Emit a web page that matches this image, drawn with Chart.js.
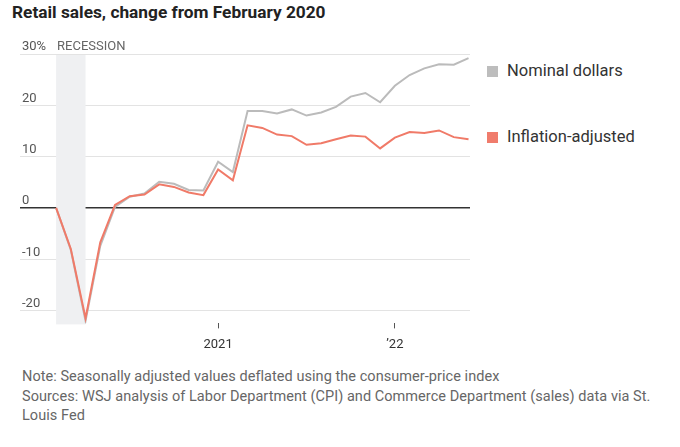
<!DOCTYPE html>
<html>
<head>
<meta charset="utf-8">
<script src="https://cdn.jsdelivr.net/npm/chart.js@4.4.0/dist/chart.umd.min.js"></script>
<style>
  body { margin: 0; width: 680px; height: 447px; position: relative; background: #fff; font-family: Roboto, sans-serif; overflow: hidden; }
  #title { position: absolute; left: 12px; top: 2px; font-weight: 700; font-size: 17.3px; color: #222; letter-spacing: 0; white-space: nowrap; }
  #wrap { position: absolute; left: 0; top: 0; width: 480px; height: 362px; }
  .leg { position: absolute; left: 487px; font-size: 16.5px; color: #333; white-space: nowrap; }
  .leg span { display: inline-block; width: 11px; height: 11px; margin-right: 9px; vertical-align: -1px; }
  #notes { position: absolute; left: 22px; top: 367px; width: 640px; font-size: 14.5px; line-height: 19.5px; color: #666; letter-spacing: 0.05px; }
</style>
</head>
<body>
<div id="title">Retail sales, change from February 2020</div>
<div id="wrap"><canvas id="chart"></canvas></div>
<div class="leg" style="top:61px"><span style="background:#bdbdbd"></span>Nominal dollars</div>
<div class="leg" style="top:127px"><span style="background:#f07c6c"></span>Inflation-adjusted</div>
<div id="notes">Note: Seasonally adjusted values deflated using the consumer-price index<br>Sources: WSJ analysis of Labor Department (CPI) and Commerce Department (sales) data via St. Louis Fed</div>
<script>
// monthly, Feb 2020 .. Jun 2022
const months = [
  '2020-02', '2020-03', '2020-04', '2020-05', '2020-06', '2020-07', '2020-08', '2020-09', '2020-10', '2020-11', '2020-12',
  '2021-01', '2021-02', '2021-03', '2021-04', '2021-05', '2021-06', '2021-07', '2021-08', '2021-09', '2021-10', '2021-11', '2021-12',
  '2022-01', '2022-02', '2022-03', '2022-04', '2022-05', '2022-06'
];
const nominal = [
  0, -8.2, -22.0, -7.4, 0.2, 2.2, 2.8, 5.1, 4.7, 3.5, 3.4,
  9.0, 7.0, 18.9, 18.9, 18.4, 19.2, 18.0, 18.6, 19.7, 21.7, 22.4, 20.6,
  23.8, 25.9, 27.2, 28.0, 27.9, 29.2
];
const inflationAdjusted = [
  0, -8.0, -21.5, -6.7, 0.6, 2.3, 2.6, 4.6, 4.1, 3.0, 2.5,
  7.5, 5.4, 16.1, 15.6, 14.3, 14.0, 12.3, 12.6, 13.4, 14.1, 13.9, 11.6,
  13.7, 14.8, 14.6, 15.1, 13.8, 13.4
];
const recession = ['2020-02', '2020-04'];
const xTickLabels = { '2021-01': '2021', '2022-01': '\u201922' };
const yTicks = [-20, -10, 0, 10, 20, 30];

const toPoints = arr => arr.map((v, i) => ({ x: i, y: v }));

// recession shading + label
const recessionPlugin = {
    id: 'recession',
    beforeDatasetsDraw(chart) {
        const { ctx, chartArea } = chart;
        const x = chart.scales.x;
        const x0 = x.getPixelForValue(months.indexOf(recession[0]));
        const x1 = x.getPixelForValue(months.indexOf(recession[1]));
        ctx.save();
        ctx.fillStyle = '#eff0f2';
        ctx.fillRect(x0, chartArea.top + 1, x1 - x0, chartArea.bottom - chartArea.top);
        ctx.fillStyle = '#666';
        ctx.font = '13px Roboto';
        ctx.textBaseline = 'middle';
        ctx.fillText('RECESSION', x0 + 1, chartArea.top - 7);
        ctx.restore();
    }
};

new Chart(document.getElementById('chart'), {
    type: 'line',
    data: {
        datasets: [
            {
                label: 'Inflation-adjusted',
                data: toPoints(inflationAdjusted),
                borderColor: '#f07a68',
                borderWidth: 2,
                pointRadius: 0,
                tension: 0,
                order: 0
            },
            {
                label: 'Nominal dollars',
                data: toPoints(nominal),
                borderColor: '#bbbbbb',
                borderWidth: 2,
                pointRadius: 0,
                tension: 0,
                order: 1
            }
        ]
    },
    options: {
        responsive: true,
        maintainAspectRatio: false,
        animation: false,
        layout: { padding: { left: 16, right: 10, top: 54, bottom: 0 } },
        plugins: { legend: { display: false }, tooltip: { enabled: false } },
        scales: {
            x: {
                type: 'linear',
                min: -2.45,
                max: 28.1,
                afterBuildTicks: scale => {
                    scale.ticks = Object.keys(xTickLabels).map(m => ({ value: months.indexOf(m) }));
                },
                ticks: {
                    autoSkip: false,
                    maxRotation: 0,
                    padding: 9,
                    color: '#333',
                    font: { family: 'Roboto', size: 13 },
                    callback: value => xTickLabels[months[value]]
                },
                grid: { drawOnChartArea: false, tickLength: 5, tickColor: '#555' },
                border: { display: false }
            },
            y: {
                min: -22.5,
                max: 30,
                afterBuildTicks: scale => {
                    scale.ticks = yTicks.map(v => ({ value: v }));
                },
                ticks: {
                    mirror: true,
                    padding: 2,
                    labelOffset: -7,
                    color: '#555',
                    font: { family: 'Roboto', size: 13 },
                    callback: value => value === 30 ? '30%' : value
                },
                grid: {
                    drawTicks: false,
                    color: ctx => ctx.tick && ctx.tick.value === 0 ? '#333' : '#e3e3e3',
                    lineWidth: ctx => ctx.tick && ctx.tick.value === 0 ? 1.5 : 1
                },
                border: { display: false }
            }
        }
    },
    plugins: [recessionPlugin]
});
</script>
</body>
</html>
